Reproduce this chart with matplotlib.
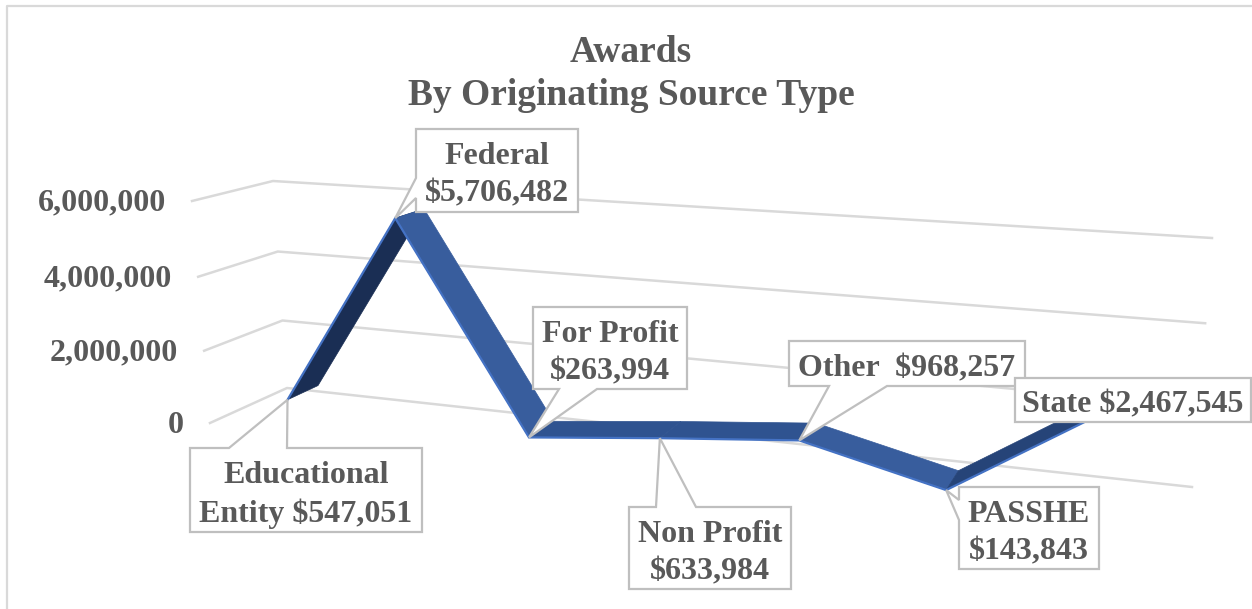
import numpy as np
import matplotlib
matplotlib.use("Agg")
import matplotlib.pyplot as plt
from matplotlib.patches import Polygon

plt.rcParams["font.family"] = ["Liberation Serif", "DejaVu Serif"]

# data
categories = ["Educational\nEntity", "Federal", "For Profit", "Non Profit", "Other ", "PASSHE", "State"]
values = [547051, 5706482, 263994, 633984, 968257, 143843, 2467545]
value_labels = ["$547,051", "$5,706,482", "$263,994", "$633,984", "$968,257", "$143,843", "$2,467,545"]
separators = [" ", "\n", "\n", "\n", " ", "\n", " "]
ticks = [0, 2000000, 4000000, 6000000]
tick_labels = ["0", "2,000,000", "4,000,000", "6,000,000"]
title = "Awards\nBy Originating Source Type"

V_MAX = 6000000
GREY = "#595959"
GRID = "#d9d9d9"
BOX_EDGE = "#bfbfbf"
seg_colors = ["#1a2e54", "#385d9d", "#2f5390", "#2f5390", "#385d9d", "#264478"]
FRONT, BACK = 0.72, 0.31

# the chart is a 3D line chart, fit a small camera to the wall corners
# (x along categories 0-1, v 0-1, depth 0 at back wall, 1 at front)
world = [(0, 0, 0), (1, 0, 0), (0, 1, 0), (1, 1, 0), (0, 0, 1), (0, 1, 1)]
image = [(287, 388), (1192, 487), (273, 181), (1212, 238), (210, 423), (192, 201)]
rows = []
for (X, Y, Z), (u, w) in zip(world, image):
    u, w = u / 1000, w / 1000
    rows.append([X, Y, Z, 1, 0, 0, 0, 0, -u * X, -u * Y, -u * Z, -u])
    rows.append([0, 0, 0, 0, X, Y, Z, 1, -w * X, -w * Y, -w * Z, -w])
CAM = np.linalg.svd(np.array(rows))[2][-1].reshape(3, 4)


def project(x, v, d):
    p = CAM @ np.array([x, v / V_MAX, d, 1.0])
    return p[0] / p[2] * 1000, p[1] / p[2] * 1000


def cat_x(i):
    return (i + 0.5) / len(categories)


def callout(ax, box, base, tip, text):
    # box = left, top, right, bottom; base = two points on the box edge
    l, t, r, b = box
    corners = [(l, t), (r, t), (r, b), (l, b)]
    if base is None:
        pts = corners
    elif base[0][0] == l and base[1][0] == l:  # wedge on left side
        pts = corners + [base[1], tip, base[0]]
    else:  # wedge on bottom or top
        if base[0][1] == t:
            pts = [(l, t), base[0], tip, base[1], (r, t), (r, b), (l, b)]
        else:
            pts = [(l, t), (r, t), (r, b), base[1], tip, base[0], (l, b)]
    ax.add_patch(Polygon(pts, closed=True, facecolor="white", edgecolor=BOX_EDGE, linewidth=1.6, zorder=5))
    ax.text((l + r) / 2, (t + b) / 2 + 5, text, ha="center", va="center", fontsize=23, fontweight="bold",
            color=GREY, linespacing=1.38, zorder=6)


fig = plt.figure(figsize=(12.52, 6.09), dpi=100)
ax = fig.add_axes([0, 0, 1, 1])
ax.set_xlim(0, 1252)
ax.set_ylim(609, 0)
ax.axis("off")

# chart border, only top and left fall inside the crop
ax.plot([7, 7, 1252], [609, 6, 6], color=GRID, linewidth=1.6)

for v, lab in zip(ticks, tick_labels):
    pts = [project(0, v, 1), project(0, v, 0), project(1, v, 0)]
    ax.plot(*zip(*pts), color=GRID, linewidth=1.8, zorder=1)
    ax.text(pts[0][0] - 26, pts[0][1] + 2, lab, ha="right", va="center", fontsize=23, fontweight="bold", color=GREY)

# ribbon
front = [project(cat_x(i), v, FRONT) for i, v in enumerate(values)]
back = [project(cat_x(i), v, BACK) for i, v in enumerate(values)]
for i in range(len(values) - 1):
    quad = [front[i], front[i + 1], back[i + 1], back[i]]
    ax.add_patch(Polygon(quad, closed=True, facecolor=seg_colors[i], edgecolor=seg_colors[i], linewidth=0.5, zorder=2))
ax.plot(*zip(*front), color="#4472c4", linewidth=1.6, zorder=3, solid_joinstyle="miter")

ax.text(631, 74, title, ha="center", va="center", fontsize=27, fontweight="bold", color=GREY, linespacing=1.27)

# callout layout: box and wedge base, the tip comes from the data
boxes = [(190, 448, 422, 532), (416, 129, 578, 212), (533, 307, 687, 389), (629, 507, 791, 589),
         (789, 341, 1025, 386), (959, 487, 1099, 569), (1015, 378, 1251, 422)]
bases = [[(229, 448), (287, 448)], [(416, 178), (416, 198)], [(559, 389), (597, 389)], [(656, 507), (696, 507)],
         [(829, 386), (887, 386)], [(959, 500), (959, 520)], None]
for i, cat in enumerate(categories):
    txt = cat + separators[i] + value_labels[i]
    callout(ax, boxes[i], bases[i], front[i], txt)

fig.savefig("out.png", dpi=100)
plt.close(fig)
